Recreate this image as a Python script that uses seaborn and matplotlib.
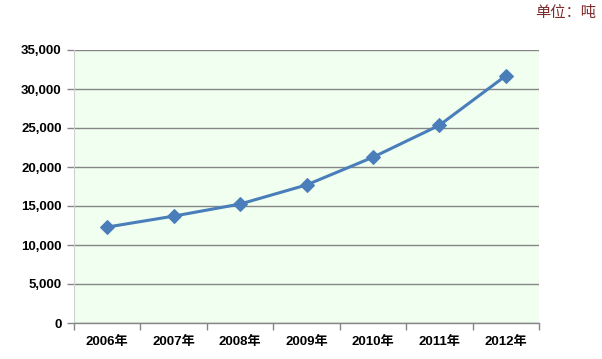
import matplotlib
matplotlib.use("Agg")
import matplotlib.pyplot as plt
import seaborn as sns
import pandas as pd
import numpy as np
from matplotlib.ticker import FuncFormatter

years = ["2006年", "2007年", "2008年", "2009年", "2010年", "2011年", "2012年"]
values = [12300, 13700, 15250, 17700, 21250, 25350, 31700]
yticks = [0, 5000, 10000, 15000, 20000, 25000, 30000, 35000]
unit_label = "单位：吨"

sns.set_theme(style="white")
plt.rcParams["font.family"] = ["Liberation Sans", "Noto Sans CJK SC", "DejaVu Sans"]

df = pd.DataFrame({"pos": np.arange(len(years)), "val": values})

fig = plt.figure(figsize=(6.02, 3.59), dpi=100)
ax = fig.add_axes([74 / 602, 36 / 359, 465 / 602, 273 / 359])
ax.set_facecolor("#F0FFF0")

sns.lineplot(data=df, x="pos", y="val", ax=ax, color="#4A7EBB", linewidth=2.2,
             marker="D", markersize=7.5, markeredgecolor="#4A7EBB")

ax.set_xlim(-0.5, len(years) - 0.5)
ax.set_ylim(0, 35000)
ax.set_yticks(yticks)
ax.yaxis.set_major_formatter(FuncFormatter(lambda v, p: f"{int(v):,}"))
ax.set_xticks(np.arange(len(years)))
ax.set_xticklabels(years)
ax.set_xticks(np.arange(-0.5, len(years)), minor=True)

ax.grid(axis="y", color="#868686", linewidth=1.0)
ax.set_axisbelow(True)
for s in ["top", "right"]:
    ax.spines[s].set_visible(False)
ax.spines["left"].set_color("#D0D0D0")
ax.spines["left"].set_linewidth(0.8)
ax.spines["bottom"].set_color("#868686")
ax.spines["bottom"].set_linewidth(1.0)

ax.tick_params(axis="y", which="major", length=5, width=1, color="#868686", left=True,
               labelsize=9.5, pad=4, labelcolor="#000000")
ax.tick_params(axis="x", which="major", length=0, labelsize=9.5, pad=9, labelcolor="#000000")
ax.tick_params(axis="x", which="minor", length=5, width=1, color="#868686", bottom=True)
for lbl in ax.get_xticklabels() + ax.get_yticklabels():
    lbl.set_fontweight("bold")

ax.set_xlabel("")
ax.set_ylabel("")

fig.text(596 / 602, 1 - 12 / 359, unit_label, ha="right", va="center",
         fontsize=11, color="#7F2A2A", family=["Noto Sans CJK SC", "DejaVu Sans"])

fig.savefig("out.png", dpi=100)
